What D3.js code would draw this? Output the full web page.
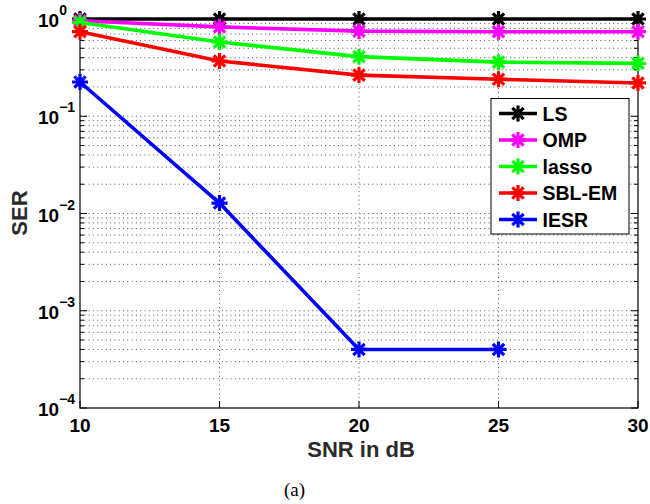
<!DOCTYPE html>
<html>
<head>
<meta charset="utf-8">
<script src="https://cdn.jsdelivr.net/npm/d3@7"></script>
<style>
  html, body { margin: 0; padding: 0; background: #fff; }
  svg { display: block; }
  text { font-family: "Liberation Sans", Arial, Helvetica, sans-serif; font-weight: bold; }
</style>
</head>
<body>
<svg id="chart" width="650" height="504"></svg>
<script>
// SNR points (dB)
const snr = [10, 15, 20, 25, 30];

// Symbol error rate for each detector
const seriesNames = ["LS", "OMP", "lasso", "SBL-EM", "IESR"];
const seriesColors = ["#000000", "#ff00ff", "#00ff00", "#ff0000", "#0000ff"];
const serLS    = [1.0, 1.0, 1.0, 1.0, 1.0];
const serOMP   = [0.96, 0.83, 0.75, 0.74, 0.74];
const serLasso = [0.92, 0.58, 0.41, 0.36, 0.35];
const serSBL   = [0.74, 0.37, 0.265, 0.24, 0.22];
const serIESR  = [0.225, 0.0128, 0.0004, 0.0004, null];

const xTicks = [10, 15, 20, 25, 30];
const yTickExps = [0, -1, -2, -3, -4];

const xLabel = "SNR in dB";
const yLabel = "SER";
const caption = "(a)";

const seriesData = [serLS, serOMP, serLasso, serSBL, serIESR];

const svg = d3.select("#chart");
const L = 80, R = 638, T = 19, B = 408;

const x = d3.scaleLinear().domain([10, 30]).range([L, R]);
const y = d3.scaleLog().domain([1e-4, 1]).range([B, T]);

// grid: minor log lines inside each decade plus major lines
const gridG = svg.append("g");
const yGridVals = [];
for (let e = -4; e < 0; e++) {
  for (let m = 1; m <= 9; m++) {
    const v = m * Math.pow(10, e);
    if (v > 1e-4 && v < 1) yGridVals.push(v);
  }
}
gridG.selectAll("line.hy").data(yGridVals).enter().append("line")
  .attr("x1", L).attr("x2", R)
  .attr("y1", d => y(d)).attr("y2", d => y(d))
  .attr("stroke", "#555").attr("stroke-width", 1)
  .attr("stroke-dasharray", "1,3.3");
gridG.selectAll("line.vx").data(xTicks.filter(d => d > 10 && d < 30)).enter().append("line")
  .attr("x1", d => x(d)).attr("x2", d => x(d))
  .attr("y1", T).attr("y2", B)
  .attr("stroke", "#555").attr("stroke-width", 1)
  .attr("stroke-dasharray", "1,3.3");

// axes box with inward ticks
const axG = svg.append("g");
axG.append("rect").attr("x", L).attr("y", T).attr("width", R - L).attr("height", B - T)
  .attr("fill", "none").attr("stroke", "#000").attr("stroke-width", 1.2);

const minorVals = yGridVals.filter(v => Math.abs(Math.log10(v) - Math.round(Math.log10(v))) > 1e-6);
const majorY = yTickExps.map(e => Math.pow(10, e));
[[L, 1], [R, -1]].forEach(([x0, dir]) => {
  axG.selectAll(null).data(minorVals).enter().append("line")
    .attr("x1", x0).attr("x2", x0 + dir * 4)
    .attr("y1", d => y(d)).attr("y2", d => y(d))
    .attr("stroke", "#000").attr("stroke-width", 1);
  axG.selectAll(null).data(majorY).enter().append("line")
    .attr("x1", x0).attr("x2", x0 + dir * 7)
    .attr("y1", d => y(d)).attr("y2", d => y(d))
    .attr("stroke", "#000").attr("stroke-width", 1);
});
[[B, -1], [T, 1]].forEach(([y0, dir]) => {
  axG.selectAll(null).data(xTicks).enter().append("line")
    .attr("x1", d => x(d)).attr("x2", d => x(d))
    .attr("y1", y0).attr("y2", y0 + dir * 7)
    .attr("stroke", "#000").attr("stroke-width", 1);
});

// x tick labels
axG.selectAll("text.xt").data(xTicks).enter().append("text")
  .attr("x", d => x(d)).attr("y", B + 24)
  .attr("text-anchor", "middle").attr("font-size", 19).attr("fill", "#000")
  .text(d => d);

// y tick labels: 10 with superscript exponent
yTickExps.forEach(e => {
  const t = axG.append("text")
    .attr("x", 38).attr("y", y(Math.pow(10, e)) + 8)
    .attr("text-anchor", "start").attr("fill", "#000");
  t.append("tspan").attr("font-size", 19).text("10");
  t.append("tspan").attr("font-size", 14).attr("dy", -12)
    .text(e === 0 ? "0" : "\u2212" + Math.abs(e));
});

// axis titles
svg.append("text").attr("x", 361).attr("y", 457)
  .attr("text-anchor", "middle").attr("font-size", 22).attr("fill", "#2a2a2a")
  .text(xLabel);
svg.append("text").attr("transform", "translate(26.5,213) rotate(-90)")
  .attr("text-anchor", "middle").attr("font-size", 22).attr("fill", "#2a2a2a")
  .text(yLabel);

// caption
svg.append("text").attr("x", 294.5).attr("y", 496)
  .attr("text-anchor", "middle").attr("font-size", 19).attr("fill", "#000")
  .style("font-family", "'Liberation Serif', 'Times New Roman', serif")
  .style("font-weight", "normal")
  .text(caption);

// asterisk marker path (plus + cross)
function asterisk(s) {
  const r = s / 2, d = r * Math.SQRT1_2;
  return `M${-r},0L${r},0M0,${-r}L0,${r}M${-d},${-d}L${d},${d}M${-d},${d}L${d},${-d}`;
}

const line = d3.line()
  .defined(d => d[1] != null)
  .x(d => x(d[0])).y(d => y(d[1]));

const plotG = svg.append("g");
seriesData.forEach((vals, i) => {
  const pts = snr.map((s, j) => [s, vals[j]]);
  const g = plotG.append("g");
  g.append("path").datum(pts).attr("d", line)
    .attr("fill", "none").attr("stroke", seriesColors[i])
    .attr("stroke-width", 3.6).attr("stroke-linejoin", "round");
  g.selectAll("path.m").data(pts.filter(d => d[1] != null)).enter().append("path")
    .attr("transform", d => `translate(${x(d[0])},${y(d[1])})`)
    .attr("d", asterisk(16))
    .attr("fill", "none").attr("stroke", seriesColors[i]).attr("stroke-width", 3.2);
});

// legend
const lg = svg.append("g");
lg.append("rect").attr("x", 491).attr("y", 98.5).attr("width", 138).attr("height", 135.5)
  .attr("fill", "#fff").attr("stroke", "#000").attr("stroke-width", 1);
seriesNames.forEach((name, i) => {
  const yy = 113.5 + i * 26.5;
  lg.append("line").attr("x1", 499).attr("x2", 537).attr("y1", yy).attr("y2", yy)
    .attr("stroke", seriesColors[i]).attr("stroke-width", 3.6);
  lg.append("path").attr("transform", `translate(518,${yy})`).attr("d", asterisk(16))
    .attr("fill", "none").attr("stroke", seriesColors[i]).attr("stroke-width", 3.2);
  lg.append("text").attr("x", 542.5).attr("y", yy + 7)
    .attr("font-size", 19.5).attr("fill", "#000").text(name);
});
</script>
</body>
</html>
